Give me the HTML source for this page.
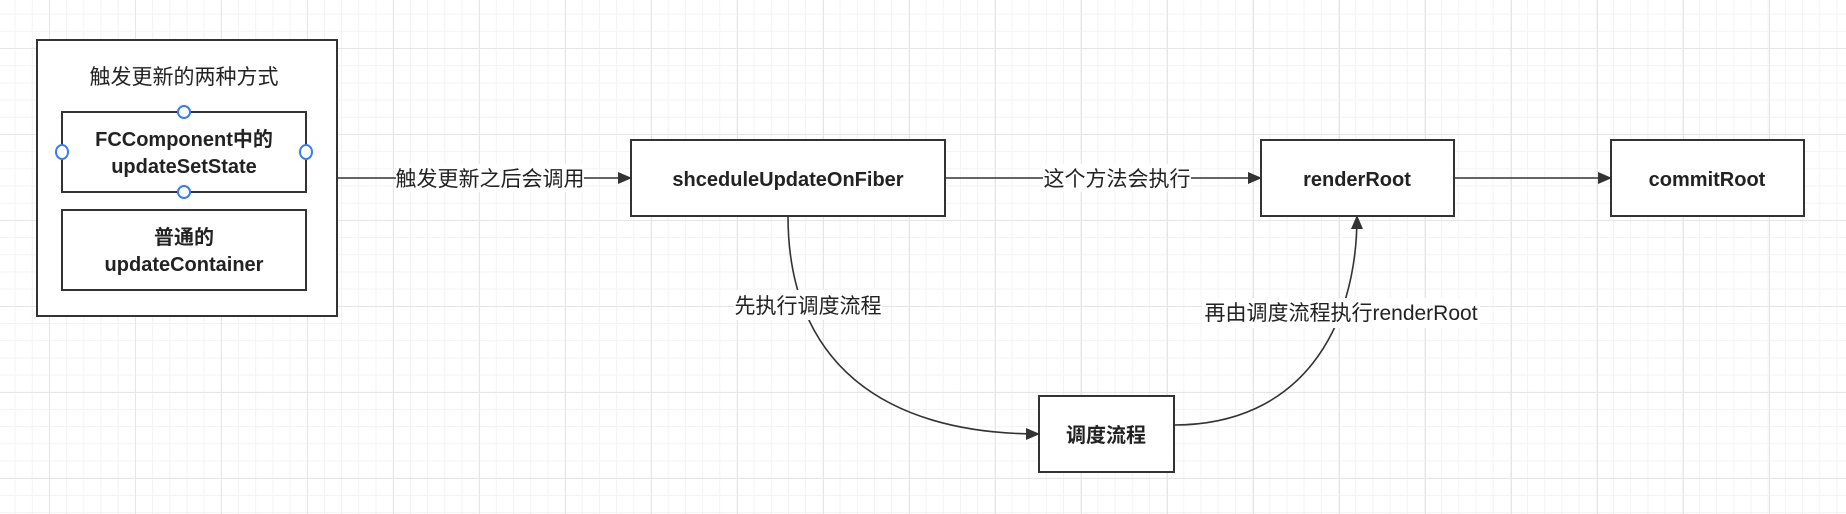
<!DOCTYPE html>
<html><head><meta charset="utf-8"><style>
html,body{margin:0;padding:0;}
body{width:1846px;height:514px;overflow:hidden;background:#fff;
background-image:linear-gradient(#e6e6e6 1px,transparent 1px),linear-gradient(90deg,#e6e6e6 1px,transparent 1px),linear-gradient(#f3f3f3 1px,transparent 1px),linear-gradient(90deg,#f3f3f3 1px,transparent 1px);
background-size:86px 86px,86px 86px,17.2px 17.2px,17.2px 17.2px;background-position:-37px 48px,-37px 48px,-37px 48px,-37px 48px;}
svg{position:absolute;left:0;top:0;}
text{font-family:"Liberation Sans","Noto Sans CJK SC",sans-serif;fill:#222;}
</style></head><body>
<svg width="1846" height="514" viewBox="0 0 1846 514">
<defs><marker id="a" markerWidth="14" markerHeight="12" refX="13" refY="6" orient="auto" markerUnits="userSpaceOnUse"><path d="M0,0 L14,6 L0,12 z" fill="#333"/></marker></defs>
<g fill="#fff" stroke="#333" stroke-width="2">
<rect x="37" y="40" width="300" height="276"/>
<rect x="62" y="112" width="244" height="80"/>
<rect x="62" y="210" width="244" height="80"/>
<rect x="631" y="140" width="314" height="76"/>
<rect x="1261" y="140" width="193" height="76"/>
<rect x="1611" y="140" width="193" height="76"/>
<rect x="1039" y="396" width="135" height="76"/>
</g>
<g fill="#fff" stroke="#3b7cf0" stroke-width="2">
<circle cx="184" cy="112" r="6"/><circle cx="184" cy="192" r="6"/>
<ellipse cx="62" cy="152" rx="6" ry="7"/><ellipse cx="306" cy="152" rx="6" ry="7"/>
</g>
<g fill="none" stroke="#333" stroke-width="1.6">
<path d="M337,178 L631,178" marker-end="url(#a)"/>
<path d="M945,178 L1261,178" marker-end="url(#a)"/>
<path d="M1454,178 L1611,178" marker-end="url(#a)"/>
<path d="M788,216 C788,360 880,434 1039,434" marker-end="url(#a)"/>
<path d="M1174,425 C1300,425 1357,330 1357,216" marker-end="url(#a)"/>
</g>
<g font-size="21" text-anchor="middle">
<rect x="396" y="164" width="188" height="28" fill="#fff"/>
<text x="490" y="186">触发更新之后会调用</text>
<rect x="1043" y="164" width="148" height="28" fill="#fff"/>
<text x="1117" y="186">这个方法会执行</text>
<rect x="734" y="290" width="148" height="30" fill="#fff"/>
<text x="808" y="313">先执行调度流程</text>
<rect x="1202" y="298" width="278" height="30" fill="#fff"/>
<text x="1341" y="320">再由调度流程执行renderRoot</text>
<text x="184" y="84">触发更新的两种方式</text>
</g>
<g font-size="20" font-weight="bold" text-anchor="middle">
<text x="184" y="146">FCComponent中的</text>
<text x="184" y="173">updateSetState</text>
<text x="184" y="244">普通的</text>
<text x="184" y="271">updateContainer</text>
<text x="788" y="186">shceduleUpdateOnFiber</text>
<text x="1357" y="186">renderRoot</text>
<text x="1707" y="186">commitRoot</text>
<text x="1106" y="442">调度流程</text>
</g>
</svg>
</body></html>
